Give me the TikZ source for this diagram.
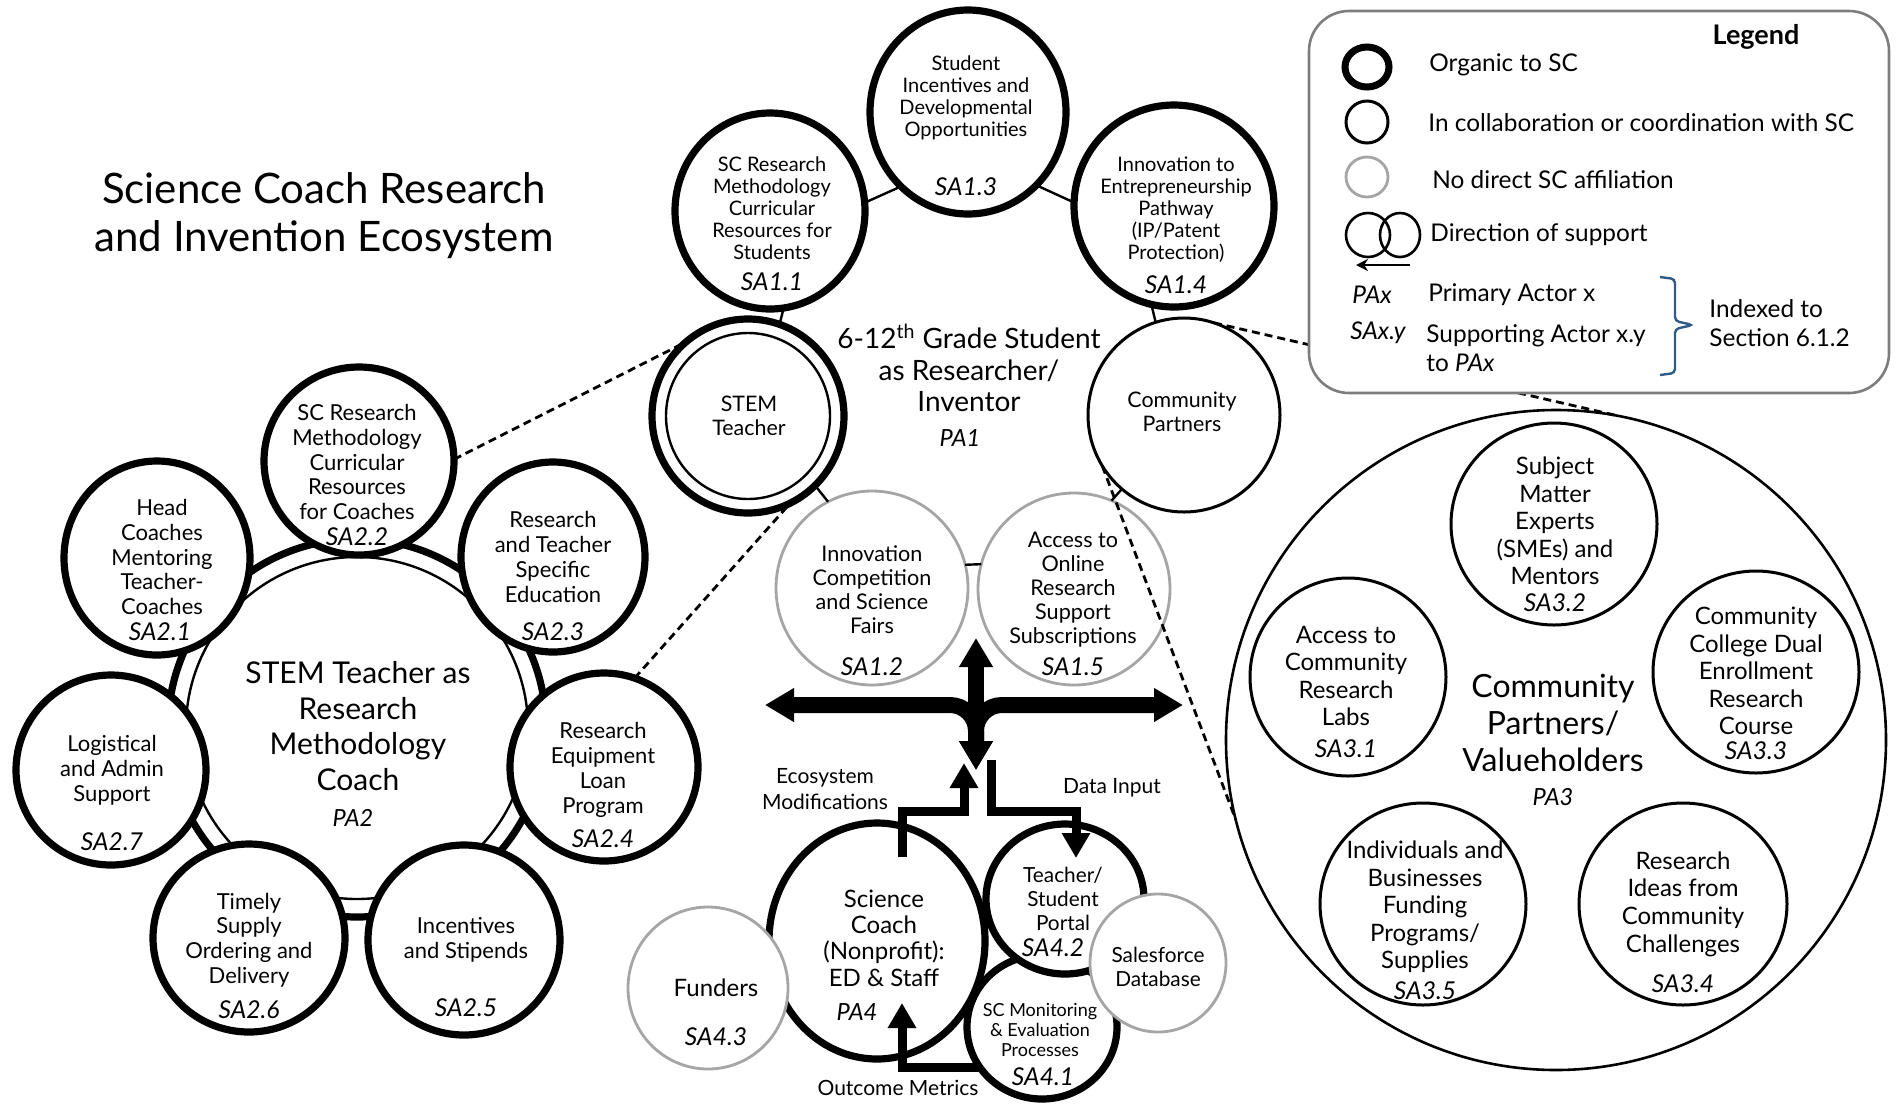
\documentclass[tikz,border=0pt]{standalone}
\usepackage{fontspec}
\setmainfont{Lato}
\usetikzlibrary{shapes.geometric,arrows.meta}
\pgfdeclarelayer{paper}
\pgfdeclarelayer{bg}
\pgfsetlayers{paper,bg,main}
\definecolor{gcirc}{RGB}{165,165,165}
\definecolor{lgborder}{RGB}{125,125,125}
\definecolor{bracecol}{RGB}{46,92,134}
\newcommand\mytitle{\fontsize{21}{24}\selectfont}
\newcommand\mypaone{\fontsize{14}{15.8}\selectfont}
\newcommand\mypatwo{\fontsize{15}{17.8}\selectfont}
\newcommand\mypathree{\fontsize{16}{18.3}\selectfont}
\newcommand\mysone{\fontsize{10}{11}\selectfont}
\newcommand\mystwo{\fontsize{11}{12.4}\selectfont}
\newcommand\mysthree{\fontsize{12}{13.8}\selectfont}
\newcommand\mygray{\fontsize{10.8}{12}\selectfont}
\newcommand\mysc{\fontsize{12}{13.2}\selectfont}
\newcommand\mysmall{\fontsize{9}{10.2}\selectfont}
\newcommand\myportal{\fontsize{10.4}{11.8}\selectfont}
\newcommand\mylab{\fontsize{12.3}{14}\selectfont\itshape}
\newcommand\mypalab{\fontsize{11.8}{14}\selectfont\itshape}
\newcommand\mylg{\fontsize{12.2}{14.5}\selectfont}
\newcommand\myarr{\fontsize{10.5}{13}\selectfont}
\tikzset{
  sz/.style 2 args={minimum width=#1pt, minimum height=#2pt},
  base/.style={ellipse, inner sep=0pt, outer sep=0pt, fill=white},
  thk/.style={base, draw, line width=3.6pt},
  med/.style={base, draw, line width=1.5pt},
  gry/.style={base, draw=gcirc, line width=1.4pt},
  conn/.style={line width=1.2pt},
  dsh/.style={line width=1.4pt, dash pattern=on 4pt off 2.5pt},
  tx/.style={align=center, inner sep=0pt},
  hub/.style={line width=8pt},
  hubtip/.tip={Triangle[length=14.5pt,width=16pt]},
  flow/.style={line width=4.5pt},
  flowtip/.tip={Triangle[length=12.5pt,width=13.5pt]}
}
\begin{document}
\begin{tikzpicture}[x=0.5pt,y=-0.5pt]
\useasboundingbox (0,0) rectangle (1901,1115);
\begin{pgfonlayer}{paper}
\fill[white] (0,0) rectangle (1901,1115);
\end{pgfonlayer}

% ---------- PA2 ring (background) ----------
\begin{pgfonlayer}{bg}
\node[circle, draw, line width=3.6pt, minimum size=189pt, inner sep=0pt] (PA2o) at (357,728) {};
\node[circle, draw, line width=1.2pt, minimum size=171pt, inner sep=0pt] (PA2i) at (357,728) {};
\end{pgfonlayer}

% ---------- PA1 group ----------
\node[thk, sz={95}{98}] (SA11) at (770,211) {};
\node[thk, sz={98}{102}] (SA13) at (968,112) {};
\node[thk, sz={100}{101}] (SA14) at (1174,206) {};
\node[thk, sz={96}{97}] (STEM) at (748,416) {};
\node[draw, ellipse, line width=1.2pt, inner sep=0pt, sz={82}{83}] (STEMi) at (748,416) {};
\node[med, sz={96}{97}] (CP) at (1184,415) {};
\node[gry, sz={96}{97}] (SA12) at (872,588) {};
\node[gry, sz={96}{96}] (SA15) at (1074,589) {};

% ---------- PA2 satellites ----------
\node[thk, sz={93}{97}] (SA21) at (157,558) {};
\node[thk, sz={95}{94}] (SA22) at (359,461) {};
\node[thk, sz={92}{95}] (SA23) at (553,557) {};
\node[thk, sz={94}{94}] (SA24) at (604,767) {};
\node[thk, sz={96}{95}] (SA25) at (464,940) {};
\node[thk, sz={96}{94}] (SA26) at (249,938) {};
\node[thk, sz={95}{95}] (SA27) at (111,770) {};

% ---------- PA3 group ----------
\node[base, draw, line width=1.3pt, sz={330}{330}] (PA3) at (1556,740) {};
\node[med, sz={103}{101}] (SA32) at (1554,524) {};
\node[med, sz={98}{99}] (SA31) at (1348,677) {};
\node[med, sz={103}{101}] (SA33) at (1756,672) {};
\node[med, sz={103}{101}] (SA35) at (1423,904) {};
\node[med, sz={104}{101}] (SA34) at (1683,904) {};

% ---------- PA4 group ----------
\node[thk, sz={108}{118}] (SC) at (877,941) {};
\node[thk, sz={75}{72}] (SA41) at (1042,1027) {};
\node[thk, sz={79}{75}] (SA42) at (1065,899) {};
\node[gry, sz={68}{69}] (SF) at (1158,963) {};
\node[gry, sz={80}{81}] (FUN) at (708,988) {};

% ---------- ring connectors ----------
\draw[conn] (SA11.5) -- (SA13.228);
\draw[conn] (SA13.313) -- (SA14.178);
\draw[conn] (SA14.257) -- (CP.107);
\draw[conn] (SA11.278) -- (STEM.71);
\draw[conn] (STEM.314) -- (SA12.117);
\draw[conn] (SA12.14) -- (SA15.165);
\draw[conn] (SA15.67) -- (CP.230);

% ---------- dashed magnification lines ----------
\draw[dsh] (SA22.1) -- (STEM.130);
\draw[dsh] (SA24.71) -- (STEM.296);
\draw[dsh] (CP.72) -- (PA3.79);
\draw[dsh] (CP.212) -- (PA3.194);

% ---------- Legend ----------
\node[draw=lgborder, line width=1.3pt, rounded corners=20pt, fill=white, minimum width=290pt, minimum height=191pt, inner sep=0pt] (LG) at (1599,202) {};
\node[thk, line width=3.5pt, sz={22}{20}] (lg1) at (1367,67) {};
\node[med, sz={21}{21}] (lg2) at (1367,122) {};
\node[gry, sz={21}{20}] (lg3) at (1367,177) {};
\node[draw, ellipse, line width=1.3pt, inner sep=0pt, sz={22}{22}] (lg4a) at (1368,235) {};
\node[draw, ellipse, line width=1.3pt, inner sep=0pt, sz={20}{22}] (lg4b) at (1400,235) {};
\coordinate (lgAS) at (1410,265);
\coordinate (lgAE) at (1356,265);
\draw[line width=1.2pt, -{Stealth[length=6pt,width=6pt]}] (lgAS) -- (lgAE);
\draw[bracecol, line width=1.2pt, rounded corners=2pt] (1660,277) -- (1675,279) -- (1675,321) -- (1693,325) -- (1675,329) -- (1675,373) -- (1660,375);

\node[inner sep=0pt, font=\fontsize{13.5}{15}\selectfont\bfseries] (lgT) at (1756,37) {Legend};
\node[inner sep=0pt, anchor=west, font=\mylg] (lgt1) at (1429,65) {Organic to SC};
\node[inner sep=0pt, anchor=west, font=\mylg] (lgt2) at (1428,123) {In collaboration or coordination with SC};
\node[inner sep=0pt, anchor=west, font=\mylg] (lgt3) at (1432,180) {No direct SC affiliation};
\node[inner sep=0pt, anchor=west, font=\mylg] (lgt4) at (1430,235) {Direction of support};
\node[inner sep=0pt, anchor=west, font=\mylg\itshape] (lgt5) at (1352,295) {PAx};
\node[inner sep=0pt, anchor=west, font=\mylg] (lgt6) at (1428,295) {Primary Actor x};
\node[inner sep=0pt, anchor=west, font=\mylg\itshape] (lgt7) at (1350,333) {SAx.y};
\node[inner sep=0pt, anchor=west, align=left, font=\mylg] (lgt8) at (1426,348) {Supporting Actor x.y\\to \textit{PAx}};
\node[inner sep=0pt, anchor=west, align=left, font=\mylg] (lgt9) at (1709,323) {Indexed to\\Section 6.1.2};

% ---------- hub arrows ----------
\coordinate (hubL) at (765,705);
\coordinate (hubR) at (1183,705);
\coordinate (hubU) at (976,638);
\coordinate (hubD) at (976,770);
\coordinate (hubB) at (976,718);
\draw[hub, hubtip-hubtip, rounded corners=13pt] (hubL) -| (hubD);
\draw[hub, hubtip-hubtip, rounded corners=13pt] (hubR) -| (hubD);
\draw[line width=8pt, -hubtip] (hubB) -- (hubU);

\coordinate (ecoS) at (902,857);
\coordinate (ecoT) at (964,763);
\draw[flow, -flowtip] (ecoS) -- ++(0,-46) -| (ecoT);
\coordinate (datS) at (991,760);
\coordinate (datT) at (1076,858);
\draw[flow, -flowtip] (datS) -- ++(0,51) -| (datT);
\coordinate (outT) at (902,1003);
\draw[flow, -flowtip] (SA41.213) -| (outT);

% ---------- texts ----------
\node[tx, font=\mytitle] (title) at (324,216) {Science Coach Research\\and Invention Ecosystem};

\node[tx, font=\mysone] (tSA11) at (772,208) {SC Research\\Methodology\\Curricular\\Resources for\\Students};
\node[tx, font=\mylab] (lSA11) at (772,282) {SA1.1};
\node[tx, font=\mysone] (tSA13) at (966,98) {Student\\Incentives and\\Developmental\\Opportunities};
\node[tx, font=\mylab] (lSA13) at (966,187) {SA1.3};
\node[tx, font=\mysone] (tSA14) at (1176,210) {Innovation to\\Entrepreneurship\\Pathway\\(IP/Patent\\Protection)};
\node[tx, font=\mylab] (lSA14) at (1176,285) {SA1.4};
\node[tx, font=\fontsize{10.7}{11.8}\selectfont] (tSTEM) at (749,416) {STEM\\Teacher};
\node[tx, font=\fontsize{10.7}{11.8}\selectfont] (tCP) at (1182,412) {Community\\Partners};
\node[tx, font=\mypaone] (tPA1) at (969,368) {6-12\textsuperscript{th} Grade Student\\as Researcher/\\Inventor};
\node[tx, font=\mypalab] (lPA1) at (960,438) {PA1};
\node[tx, font=\mygray] (tSA12) at (872,590) {Innovation\\Competition\\and Science\\Fairs};
\node[tx, font=\mylab] (lSA12) at (872,667) {SA1.2};
\node[tx, font=\mygray] (tSA15) at (1073,590) {Access to\\Online\\Research\\Support\\Subscriptions};
\node[tx, font=\mylab] (lSA15) at (1073,667) {SA1.5};

\node[tx, font=\mypatwo] (tPA2) at (358,726) {STEM Teacher as\\Research\\Methodology\\Coach};
\node[tx, font=\mypalab] (lPA2) at (353,818) {PA2};
\node[tx, font=\mystwo] (tSA21) at (162,557) {Head\\Coaches\\Mentoring\\Teacher-\\Coaches};
\node[tx, font=\mylab] (lSA21) at (160,632) {SA2.1};
\node[tx, font=\mystwo] (tSA22) at (357,462) {SC Research\\Methodology\\Curricular\\Resources\\for Coaches};
\node[tx, font=\mylab] (lSA22) at (357,537) {SA2.2};
\node[tx, font=\mystwo] (tSA23) at (553,557) {Research\\and Teacher\\Specific\\Education};
\node[tx, font=\mylab] (lSA23) at (553,632) {SA2.3};
\node[tx, font=\mystwo] (tSA24) at (603,770) {Research\\Equipment\\Loan\\Program};
\node[tx, font=\mylab] (lSA24) at (603,839) {SA2.4};
\node[tx, font=\mystwo] (tSA25) at (466,940) {Incentives\\and Stipends};
\node[tx, font=\mylab] (lSA25) at (466,1008) {SA2.5};
\node[tx, font=\mystwo] (tSA26) at (249,940) {Timely\\Supply\\Ordering and\\Delivery};
\node[tx, font=\mylab] (lSA26) at (249,1010) {SA2.6};
\node[tx, font=\mystwo] (tSA27) at (112,770) {Logistical\\and Admin\\Support};
\node[tx, font=\mylab] (lSA27) at (112,842) {SA2.7};

\node[tx, font=\mypathree] (tPA3) at (1553,723) {Community\\Partners/\\Valueholders};
\node[tx, font=\mypalab] (lPA3) at (1553,797) {PA3};
\node[tx, font=\mysthree] (tSA32) at (1555,521) {Subject\\Matter\\Experts\\(SMEs) and\\Mentors};
\node[tx, font=\mylab] (lSA32) at (1555,603) {SA3.2};
\node[tx, font=\mysthree] (tSA31) at (1346,676) {Access to\\Community\\Research\\Labs};
\node[tx, font=\mylab] (lSA31) at (1346,749) {SA3.1};
\node[tx, font=\mysthree] (tSA33) at (1756,671) {Community\\College Dual\\Enrollment\\Research\\Course};
\node[tx, font=\mylab] (lSA33) at (1756,751) {SA3.3};
\node[tx, font=\mysthree] (tSA35) at (1425,907) {Individuals and\\Businesses\\Funding\\Programs/\\Supplies};
\node[tx, font=\mylab] (lSA35) at (1425,991) {SA3.5};
\node[tx, font=\mysthree] (tSA34) at (1683,904) {Research\\Ideas from\\Community\\Challenges};
\node[tx, font=\mylab] (lSA34) at (1683,984) {SA3.4};

\node[tx, font=\mysc] (tSC) at (884,938) {Science\\Coach\\(Nonprofit):\\ED \& Staff};
\node[tx, font=\mypalab] (lSC) at (857,1012) {PA4};
\node[tx, font=\myportal] (tSA42) at (1063,899) {Teacher/\\Student\\Portal};
\node[tx, font=\mylab] (lSA42) at (1053,948) {SA4.2};
\node[tx, font=\mysmall] (tSA41) at (1040,1030) {SC Monitoring\\\& Evaluation\\Processes};
\node[tx, font=\mylab] (lSA41) at (1043,1077) {SA4.1};
\node[tx, font=\myportal] (tSF) at (1158,967) {Salesforce\\Database};
\node[tx, font=\fontsize{12}{14}\selectfont] (tFUN) at (716,988) {Funders};
\node[tx, font=\mylab] (lFUN) at (716,1037) {SA4.3};

\node[tx, font=\myarr] (tEco) at (825,789) {Ecosystem\\Modifications};
\node[tx, font=\myarr] (tDat) at (1112,788) {Data Input};
\node[tx, font=\myarr] (tOut) at (898,1088) {Outcome Metrics};
\end{tikzpicture}
\end{document}
